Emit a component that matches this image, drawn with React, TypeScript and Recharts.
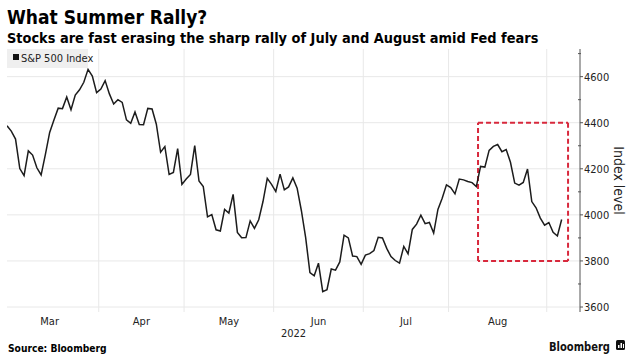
import React from 'react';
import { LineChart, Line, XAxis, YAxis, ReferenceLine } from 'recharts';

// S&P 500 daily closes, 2 Mar 2022 – 7 Sep 2022 (trading days)
const monthNames = ['Mar', 'Apr', 'May', 'Jun', 'Jul', 'Aug', 'Sep'];
const tradingDaysInMonth = [23, 20, 21, 21, 20, 23, 21];
const marCloses = [4386.54, 4363.49, 4328.87, 4201.09, 4170.7, 4277.88, 4259.52, 4204.31, 4173.11, 4262.45, 4357.86, 4411.67, 4463.12, 4461.18, 4511.61, 4456.24, 4520.16, 4543.06, 4575.52, 4631.6, 4602.45, 4530.41];
const aprCloses = [4545.86, 4582.64, 4525.12, 4481.15, 4500.21, 4488.28, 4412.53, 4397.45, 4446.59, 4392.59, 4391.69, 4462.21, 4459.45, 4393.66, 4271.78, 4296.12, 4175.2, 4183.96, 4287.5, 4131.93];
const mayCloses = [4155.38, 4175.48, 4300.17, 4146.87, 4123.34, 3991.24, 4001.05, 3935.18, 3930.08, 4023.89, 4008.01, 4088.85, 3923.68, 3900.79, 3901.36, 3973.75, 3941.48, 3978.73, 4057.84, 4158.24, 4132.15];
const junCloses = [4101.23, 4176.82, 4108.54, 4121.43, 4160.68, 4115.77, 4017.82, 3900.86, 3749.63, 3735.48, 3789.99, 3666.77, 3674.84, 3764.79, 3759.89, 3795.73, 3911.74, 3900.11, 3821.55, 3818.83, 3785.38];
const julCloses = [3825.33, 3831.39, 3845.08, 3902.62, 3899.38, 3854.43, 3818.8, 3801.78, 3790.38, 3863.16, 3830.85, 3936.69, 3959.9, 3998.95, 3961.63, 3966.84, 3921.05, 4023.61, 4072.43, 4130.29];
const augCloses = [4118.63, 4091.19, 4155.17, 4151.94, 4145.19, 4140.06, 4122.47, 4210.24, 4207.27, 4280.15, 4297.14, 4305.2, 4274.04, 4283.74, 4228.48, 4137.99, 4128.73, 4140.77, 4199.12, 4057.66, 4030.61, 3986.16, 3955.0];
const sepCloses = [3966.85, 3924.26, 3908.19, 3979.87];

const yMajorTicks = [3600, 3800, 4000, 4200, 4400, 4600];
const yAllTicks = [3600, 3700, 3800, 3900, 4000, 4100, 4200, 4300, 4400, 4500, 4600, 4700];
const yDomain = [3578.3, 4720];
const xMax = 134.3;

// highlighted window: from 9 Aug to the end, between 3800 and 4400
const boxStartIndex = 110.4;
const boxEndIndex = 131.5;
const boxLow = 3800;
const boxHigh = 4400;

const monthly = [marCloses, aprCloses, mayCloses, junCloses, julCloses, augCloses, sepCloses];
const data: { i: number; v: number }[] = [];
const monthStarts: number[] = [];
monthly.forEach((arr, m) => {
  monthStarts.push(data.length - 0.5 - (m === 0 ? tradingDaysInMonth[0] - marCloses.length : 0));
  arr.forEach((v) => data.push({ i: data.length, v }));
});
const boundaries = monthStarts.slice(1);
const labelPositions = monthNames.slice(0, 6).map((_, m) => (monthStarts[m] + monthStarts[m] + tradingDaysInMonth[m]) / 2);

const boxSegments = [
  [{ x: boxStartIndex, y: boxHigh }, { x: boxEndIndex, y: boxHigh }],
  [{ x: boxEndIndex, y: boxHigh }, { x: boxEndIndex, y: boxLow }],
  [{ x: boxEndIndex, y: boxLow }, { x: boxStartIndex, y: boxLow }],
  [{ x: boxStartIndex, y: boxLow }, { x: boxStartIndex, y: boxHigh }],
];

const FONT = '"DejaVu Sans Condensed", "DejaVu Sans", sans-serif';

const YTick = (props: any) => {
  const { x, y, payload } = props;
  const major = payload.value % 200 === 0;
  if (!major) {
    return <line x1={x - 2} x2={x + 1} y1={y} y2={y} stroke="#555" strokeWidth={1} />;
  }
  return (
    <g>
      <line x1={x} x2={x + 3} y1={y} y2={y} stroke="#555" strokeWidth={1} />
      <text x={x + 4} y={y} dy={4} fontSize={11} fill="#222" fontFamily={FONT}>
        {payload.value}
      </text>
    </g>
  );
};

export default function App() {
  return (
    <div style={{ position: 'absolute', left: 0, top: 0, width: 633, height: 362, background: '#fff', overflow: 'hidden' }}>
      <LineChart width={633} height={362} data={data} margin={{ top: 49, right: 8, bottom: 20, left: 7 }}>
        <XAxis
          dataKey="i"
          type="number"
          domain={[0, xMax]}
          allowDataOverflow
          ticks={labelPositions}
          tickFormatter={(v: number) => monthNames[labelPositions.indexOf(v)]}
          axisLine={false}
          tickLine={false}
          tickSize={0}
          tickMargin={5}
          height={30}
          interval={0}
          tick={{ fontSize: 11, fill: '#222', fontFamily: FONT }}
        />
        <YAxis
          orientation="right"
          type="number"
          domain={yDomain}
          allowDataOverflow
          ticks={yAllTicks}
          interval={0}
          width={45}
          axisLine={{ stroke: '#555', strokeWidth: 1 }}
          tickLine={false}
          tickSize={0}
          tickMargin={0}
          tick={<YTick />}
        />
        {yMajorTicks.map((t) => (
          <ReferenceLine key={'h' + t} y={t} stroke="#e8e8e8" strokeWidth={1} ifOverflow="visible" />
        ))}
        {boundaries.map((b) => (
          <ReferenceLine key={'v' + b} x={b} stroke="#e8e8e8" strokeWidth={1} ifOverflow="visible" />
        ))}
        {boxSegments.map((seg, k) => (
          <ReferenceLine
            key={'box' + k}
            segment={seg}
            stroke="#d8283c"
            strokeWidth={2}
            strokeDasharray="5 3"
            ifOverflow="visible"
          />
        ))}
        <Line dataKey="v" type="linear" stroke="#1c1c1c" strokeWidth={1.5} dot={false} isAnimationActive={false} />
      </LineChart>
      <svg width={633} height={362} style={{ position: 'absolute', left: 0, top: 0, pointerEvents: 'none' }}>
        <text x={7} y={24} fontSize={19} fontWeight="bold" fill="#000" fontFamily={FONT}>What Summer Rally?</text>
        <text x={7} y={43} fontSize={14.4} fontWeight="bold" fill="#000" fontFamily={FONT}>Stocks are fast erasing the sharp rally of July and August amid Fed fears</text>
        <rect x={7} y={49} width={81} height={19} fill="#efefef" />
        <rect x={13} y={54} width={6} height={6} fill="#111" />
        <text x={21} y={62} fontSize={11} fill="#222" fontFamily={FONT}>S&amp;P 500 Index</text>
        <text x={293.5} y={337} fontSize={11} fill="#222" textAnchor="middle" fontFamily={FONT}>2022</text>
        <text x={614} y={180.5} fontSize={14} fill="#222" textAnchor="middle" fontFamily={FONT} transform="rotate(90 614 180.5)">Index level</text>
        <text x={8} y={352} fontSize={10.2} fontWeight="bold" fill="#000" fontFamily={FONT}>Source: Bloomberg</text>
        <text x={549} y={351} fontSize={13} fontWeight="bold" fill="#111" fontFamily={FONT} textLength={61} lengthAdjust="spacingAndGlyphs">Bloomberg</text>
        <rect x={616} y={340} width={9} height={10} rx={1.5} fill="#111" />
        <rect x={618} y={345} width={1.5} height={3} fill="#fff" />
        <rect x={620.5} y={343} width={1.5} height={5} fill="#fff" />
        <rect x={623} y={344} width={1} height={4} fill="#fff" />
      </svg>
    </div>
  );
}
